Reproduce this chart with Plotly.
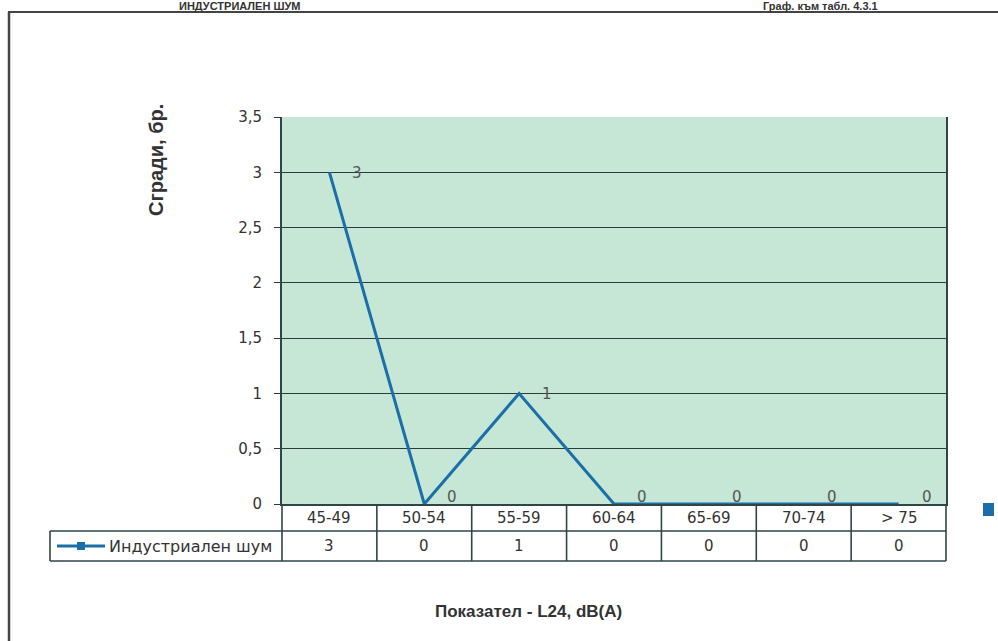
import plotly.graph_objects as go

categories = ["45-49", "50-54", "55-59", "60-64", "65-69", "70-74", "> 75"]
values = [3, 0, 1, 0, 0, 0, 0]
series_name = "Индустриален шум"
y_ticks = [0, 0.5, 1, 1.5, 2, 2.5, 3, 3.5]
y_title = "Сгради, бр."
x_title = "Показател - L24, dB(A)"
header_left = "ИНДУСТРИАЛЕН ШУМ"
header_right = "Граф. към табл. 4.3.1"

W, H = 998, 641
OFF = 0  # body margin removed via post_script
PL, PR, PT, PB = 282, 946, 117, 504  # plot area in screen px
L, T = PL - OFF, PT - OFF
R, B = W - (PR - OFF), H - (PB - OFF)
pw, ph = PR - PL, PB - PT
n = len(categories)

line_col = "#1b6fa8"
grid_col = "#2e3b3b"
tbl_col = "#2f4646"
txt_col = "#333333"
font = "Liberation Sans, Arial, sans-serif"
font_w = "DejaVu Sans, Liberation Sans, sans-serif"


def px2x(px):
    return (px - PL) / pw


def py2y(py):
    return (PB - py) / ph


fig = go.Figure()
fig.add_trace(go.Scatter(
    x=list(range(n)), y=values, mode="lines",
    line=dict(color=line_col, width=3), name=series_name, showlegend=False,
))

shapes = []
annotations = []


def ann(**kw):
    kw.setdefault("showarrow", False)
    kw.setdefault("xanchor", "center")
    kw.setdefault("yanchor", "middle")
    annotations.append(kw)


# data labels
for i, v in enumerate(values):
    ann(x=i, y=v, xref="x", yref="y", text=str(v), xshift=28, yshift=(-1 if v > 0 else 7),
        font=dict(family=font_w, size=15, color="#555555"))

# table geometry (paper coords)
row1_bot = py2y(531)
row2_bot = py2y(561)
leg_left = px2x(50)
lw = 1.6
shapes.append(dict(type="line", xref="paper", yref="paper", x0=leg_left, x1=1, y0=row1_bot, y1=row1_bot,
                   line=dict(color=tbl_col, width=lw)))
shapes.append(dict(type="line", xref="paper", yref="paper", x0=leg_left, x1=1, y0=row2_bot, y1=row2_bot,
                   line=dict(color=tbl_col, width=lw)))
shapes.append(dict(type="line", xref="paper", yref="paper", x0=leg_left, x1=leg_left, y0=row1_bot, y1=row2_bot,
                   line=dict(color=tbl_col, width=lw)))
for i in range(n + 1):
    shapes.append(dict(type="line", xref="paper", yref="paper", x0=i / n, x1=i / n, y0=0, y1=row2_bot,
                       line=dict(color=tbl_col, width=lw)))
for i, (c, v) in enumerate(zip(categories, values)):
    ann(x=i, y=(0 + row1_bot) / 2, xref="x", yref="paper", text=c,
        font=dict(family=font_w, size=15, color=txt_col))
    ann(x=i, y=(row1_bot + row2_bot) / 2, xref="x", yref="paper", text=str(v),
        font=dict(family=font_w, size=15, color=txt_col))

# legend key in table
ly = (row1_bot + row2_bot) / 2
shapes.append(dict(type="line", xref="paper", yref="paper", x0=px2x(57), x1=px2x(105), y0=ly, y1=ly,
                   line=dict(color=line_col, width=3)))
shapes.append(dict(type="rect", xref="paper", yref="paper", x0=px2x(77), x1=px2x(85),
                   y0=ly - 4 / ph, y1=ly + 4 / ph, fillcolor=line_col, line=dict(width=0)))
ann(x=px2x(107), y=ly, xref="paper", yref="paper", text=series_name, xanchor="left",
    font=dict(family=font_w, size=16, color=txt_col))

# cut-off legend marker on right
shapes.append(dict(type="rect", xref="paper", yref="paper", x0=px2x(983), x1=px2x(994),
                   y0=py2y(516), y1=py2y(503), fillcolor=line_col, line=dict(width=0)))

# outer frame
shapes.append(dict(type="line", xref="paper", yref="paper", x0=px2x(8), x1=px2x(1000), y0=py2y(12), y1=py2y(12),
                   line=dict(color="#444444", width=2)))
shapes.append(dict(type="line", xref="paper", yref="paper", x0=px2x(9), x1=px2x(9), y0=py2y(12), y1=py2y(645),
                   line=dict(color="#444444", width=2.5)))

# titles
ann(x=px2x(528), y=py2y(611), xref="paper", yref="paper", text=f"<b>{x_title}</b>",
    font=dict(family=font, size=17, color=txt_col))
ann(x=px2x(156), y=py2y(160), xref="paper", yref="paper", text=f"<b>{y_title}</b>",
    textangle=-90, font=dict(family=font, size=20, color=txt_col))
ann(x=px2x(240), y=py2y(6), xref="paper", yref="paper", text=f"<b>{header_left}</b>",
    font=dict(family=font, size=11, color=txt_col))
ann(x=px2x(820), y=py2y(6), xref="paper", yref="paper", text=f"<b>{header_right}</b>",
    font=dict(family=font, size=11, color=txt_col))

fig.update_layout(
    width=W, height=H, margin=dict(l=L, r=R, t=T, b=B),
    paper_bgcolor="white", plot_bgcolor="#c6e6d6",
    separators=", ", showlegend=False,
    shapes=shapes, annotations=annotations,
    xaxis=dict(range=[-0.5, n - 0.5], showticklabels=False, showgrid=False, zeroline=False,
               showline=True, linecolor=tbl_col, linewidth=2, mirror=False, ticks=""),
    yaxis=dict(range=[0, 3.5], tickvals=y_ticks, showgrid=True, gridcolor=grid_col, gridwidth=1.2,
               zeroline=False, showline=True, linecolor=tbl_col, linewidth=2, mirror=True,
               ticks="outside", ticklen=6, tickcolor=grid_col, ticklabelstandoff=9,
               tickfont=dict(family=font_w, size=15, color=txt_col)),
)

fig.write_html("out.html", config={"displayModeBar": False},
               post_script="document.body.style.margin='0px';document.body.style.overflow='hidden';")
